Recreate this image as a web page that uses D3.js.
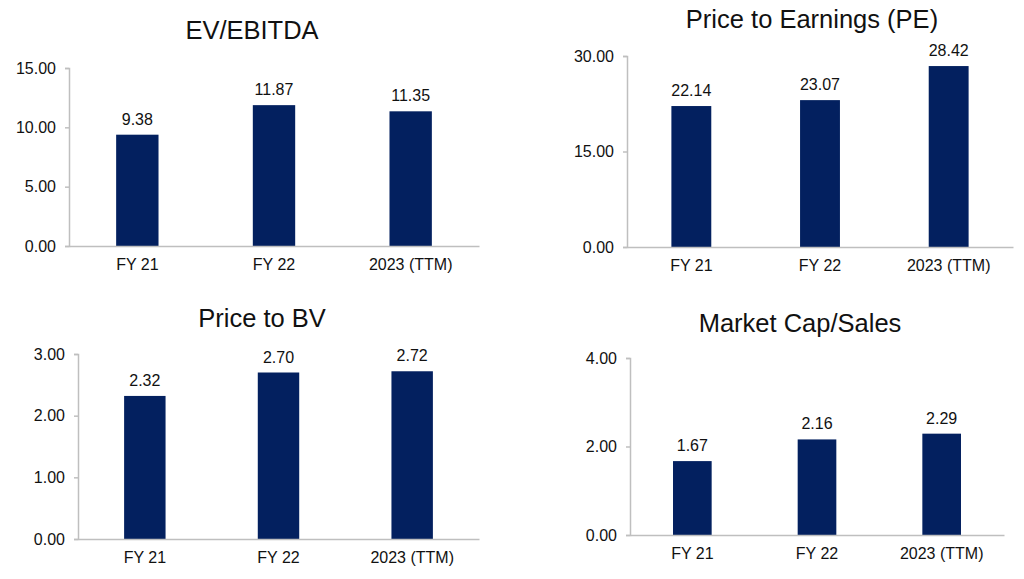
<!DOCTYPE html>
<html>
<head>
<meta charset="utf-8">
<script src="https://cdn.jsdelivr.net/npm/d3@7"></script>
<style>
  body { margin: 0; background: #fff; }
  svg { display: block; font-family: "Liberation Sans", Arial, sans-serif; }
</style>
</head>
<body>
<svg></svg>
<script>
const size = {w: 1024, h: 579};
const svg = d3.select('svg').attr('width', size.w).attr('height', size.h);

// chart values
const categories = ['FY 21', 'FY 22', '2023 (TTM)'];
const evEbitda = [9.38, 11.87, 11.35];
const peRatio = [22.14, 23.07, 28.42];
const priceToBv = [2.32, 2.70, 2.72];
const mcapSales = [1.67, 2.16, 2.29];

const evTicks = [0, 5, 10, 15];
const peTicks = [0, 15, 30];
const bvTicks = [0, 1, 2, 3];
const mcapTicks = [0, 2, 4];

const titles = ['EV/EBITDA', 'Price to Earnings (PE)', 'Price to BV', 'Market Cap/Sales'];

// where each small chart sits (axis box + title)
const panels = [
  {title: titles[0], values: evEbitda, ticks: evTicks, x0: 69,  x1: 479,  yTop: 68,  yBase: 246, tx: 252, ty: 39},
  {title: titles[1], values: peRatio,  ticks: peTicks, x0: 627, x1: 1013, yTop: 56,  yBase: 247, tx: 812, ty: 28},
  {title: titles[2], values: priceToBv, ticks: bvTicks, x0: 78, x1: 479,  yTop: 354, yBase: 539, tx: 262, ty: 327},
  {title: titles[3], values: mcapSales, ticks: mcapTicks, x0: 630, x1: 1004, yTop: 358, yBase: 535, tx: 800, ty: 332}
];

const barColor = '#03205f';
const axisColor = '#bfbfbf';

panels.forEach(drawPanel);

function drawPanel(p) {
  let g = svg.append('g').classed('panel', true);

  let x = d3.scaleBand()
    .domain(categories)
    .range([p.x0, p.x1])
    .paddingInner(0.69)
    .paddingOuter(0.345);

  let y = d3.scaleLinear()
    .domain([0, d3.max(p.ticks)])
    .range([p.yBase, p.yTop]);

  // title
  g.append('text')
    .attr('x', p.tx)
    .attr('y', p.ty)
    .attr('text-anchor', 'middle')
    .attr('font-size', 25.5)
    .attr('fill', '#111')
    .text(p.title);

  // y axis
  let yAxis = g.append('g')
    .attr('transform', `translate(${p.x0},0)`)
    .call(d3.axisLeft(y).tickValues(p.ticks).tickSize(4).tickPadding(9).tickFormat(d3.format('.2f')));
  yAxis.select('.domain').attr('stroke', axisColor).attr('stroke-width', 1.5);
  yAxis.selectAll('.tick line').attr('stroke', axisColor).attr('stroke-width', 1.5);
  yAxis.selectAll('.tick text').attr('font-size', 16).attr('fill', '#111').attr('font-family', null);

  // bars
  g.append('g').selectAll('rect')
    .data(p.values)
    .join('rect')
    .attr('x', (d, i) => x(categories[i]))
    .attr('width', x.bandwidth())
    .attr('y', d => y(d))
    .attr('height', d => p.yBase - y(d))
    .attr('fill', barColor);

  // value labels
  g.append('g').selectAll('text')
    .data(p.values)
    .join('text')
    .attr('x', (d, i) => x(categories[i]) + x.bandwidth() / 2)
    .attr('y', d => y(d) - 10)
    .attr('text-anchor', 'middle')
    .attr('font-size', 16)
    .attr('fill', '#111')
    .text(d => d.toFixed(2));

  // x axis
  let xAxis = g.append('g')
    .attr('transform', `translate(0,${p.yBase})`)
    .call(d3.axisBottom(x).tickSize(0).tickPadding(13).tickSizeOuter(0));
  xAxis.select('.domain').attr('stroke', axisColor).attr('stroke-width', 1.5);
  xAxis.selectAll('.tick text').attr('font-size', 16).attr('fill', '#111').attr('font-family', null);
}
</script>
</body>
</html>
